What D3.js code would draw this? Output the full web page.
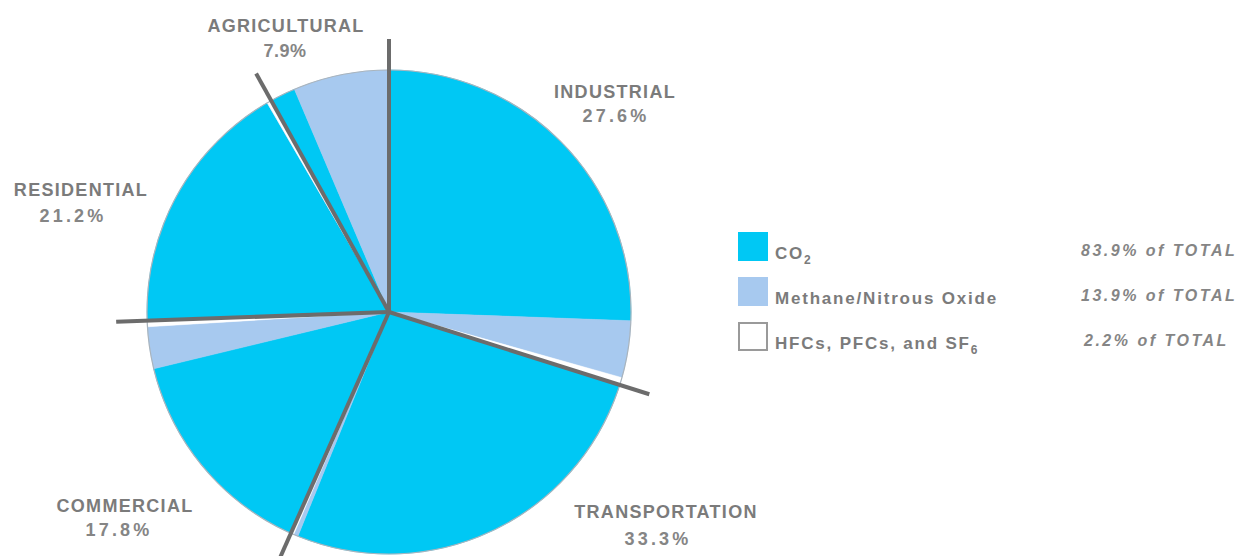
<!DOCTYPE html>
<html>
<head>
<meta charset="utf-8">
<script src="https://cdn.jsdelivr.net/npm/d3@7"></script>
<style>
  html, body { margin: 0; padding: 0; background: #ffffff; }
  svg { display: block; }
</style>
</head>
<body>
<svg id="chart" width="1247" height="556"></svg>
<script>
// ---------- DATA ----------
const sectors = ["INDUSTRIAL", "TRANSPORTATION", "COMMERCIAL", "RESIDENTIAL", "AGRICULTURAL"];
const sectorShareLabels = ["27.6%", "33.3%", "17.8%", "21.2%", "7.9%"];
// share of the drawn circle (percent) per gas, as drawn in each sector
const co2Values     = [25.6, 26.3, 14.6, 17.2, 1.7];
const methaneValues = [3.8, 0.3, 2.8, 0.0, 6.4];
const hfcValues     = [0.5, 0.2, 0.4, 0.3, 0.0];
const gases = ["CO2", "Methane/Nitrous Oxide", "HFCs, PFCs, and SF6"];
const gasTotals = ["83.9% of TOTAL", "13.9% of TOTAL", "2.2% of TOTAL"];

// ---------- BUILD ----------
const svg = d3.select("#chart");
const cx = 389, cy = 312, R = 242, Rline = 273;
const gasColor = d3.scaleOrdinal().domain(gases).range(["#00c8f4", "#a7c9ef", "#ffffff"]);
const grey = "#7b7b7b";

const slices = [];
sectors.forEach((s, i) => {
  slices.push({ sector: s, gas: gases[0], value: co2Values[i] });
  slices.push({ sector: s, gas: gases[1], value: methaneValues[i] });
  slices.push({ sector: s, gas: gases[2], value: hfcValues[i] });
});

const pie = d3.pie().sort(null).value(d => d.value).startAngle(0).endAngle(2 * Math.PI);
const arcs = pie(slices);
const arc = d3.arc().innerRadius(0).outerRadius(R);

const g = svg.append("g").attr("transform", `translate(${cx},${cy})`);
g.selectAll("path.slice").data(arcs).join("path")
  .attr("class", "slice")
  .attr("d", arc)
  .attr("fill", d => gasColor(d.data.gas))
  .attr("stroke", d => gasColor(d.data.gas))
  .attr("stroke-width", 0.5);

// rim outline
g.append("circle").attr("r", R).attr("fill", "none").attr("stroke", "#a9b4bd").attr("stroke-width", 1.2);

// sector dividers at cumulative boundaries
const sectorTotals = sectors.map((s, i) => co2Values[i] + methaneValues[i] + hfcValues[i]);
const grand = d3.sum(sectorTotals);
const angle = d3.scaleLinear().domain([0, grand]).range([0, 2 * Math.PI]);
const boundaries = [0].concat(Array.from(d3.cumsum(sectorTotals)).slice(0, -1));
g.selectAll("line.div").data(boundaries).join("line")
  .attr("class", "div")
  .attr("x1", 0).attr("y1", 0)
  .attr("x2", d => Rline * Math.sin(angle(d)))
  .attr("y2", d => -Rline * Math.cos(angle(d)))
  .attr("stroke", "#6c6c6c")
  .attr("stroke-width", 4)
  .attr("stroke-linecap", "butt");

// sector labels
const labelPos = {
  "INDUSTRIAL":     { x: 615, y: 98,  px: 616, py: 122 },
  "TRANSPORTATION": { x: 666, y: 518, px: 658, py: 545 },
  "COMMERCIAL":     { x: 125, y: 512, px: 119, py: 536 },
  "RESIDENTIAL":    { x: 81,  y: 196, px: 73,  py: 222 },
  "AGRICULTURAL":   { x: 286, y: 32,  px: 285, py: 57 }
};
sectors.forEach((s, i) => {
  const p = labelPos[s];
  svg.append("text")
    .attr("x", p.x).attr("y", p.y)
    .attr("text-anchor", "middle")
    .attr("font-family", "Liberation Sans, Arial, sans-serif")
    .attr("font-weight", "bold")
    .attr("font-size", 18)
    .attr("letter-spacing", 1.3)
    .attr("fill", grey)
    .text(s);
  const small = s === "AGRICULTURAL";
  svg.append("text")
    .attr("x", p.px).attr("y", p.py)
    .attr("text-anchor", "middle")
    .attr("font-family", "Liberation Sans, Arial, sans-serif")
    .attr("font-weight", "bold")
    .attr("font-size", 18)
    .attr("letter-spacing", small ? 0.5 : 3.2)
    .attr("fill", "#858585")
    .text(sectorShareLabels[i]);
});

// legend
const legY = [232, 277, 322];
const legend = svg.append("g");
gases.forEach((gname, i) => {
  const isWhite = i === 2;
  legend.append("rect")
    .attr("x", isWhite ? 739 : 738).attr("y", legY[i] + (isWhite ? 1 : 0))
    .attr("width", isWhite ? 28 : 30).attr("height", isWhite ? 27 : 29)
    .attr("fill", gasColor(gname))
    .attr("stroke", isWhite ? "#9a9a9a" : "none")
    .attr("stroke-width", 2);
  const t = legend.append("text")
    .attr("x", 775).attr("y", legY[i] + 27)
    .attr("font-family", "Liberation Sans, Arial, sans-serif")
    .attr("font-weight", "bold")
    .attr("font-size", 17)
    .attr("letter-spacing", 1.8)
    .attr("fill", grey);
  if (i === 0) {
    t.append("tspan").text("CO");
    t.append("tspan").attr("font-size", 12).attr("dy", 5).text("2");
  } else if (i === 2) {
    t.append("tspan").text("HFCs, PFCs, and SF");
    t.append("tspan").attr("font-size", 12).attr("dy", 5).text("6");
  } else {
    t.text(gname);
  }
  legend.append("text")
    .attr("x", i === 2 ? 1084 : 1081).attr("y", legY[i] + 24)
    .attr("font-family", "Liberation Sans, Arial, sans-serif")
    .attr("font-weight", "bold")
    .attr("font-style", "italic")
    .attr("font-size", 16)
    .attr("letter-spacing", 2.5)
    .attr("fill", "#858585")
    .text(gasTotals[i]);
});
</script>
</body>
</html>
